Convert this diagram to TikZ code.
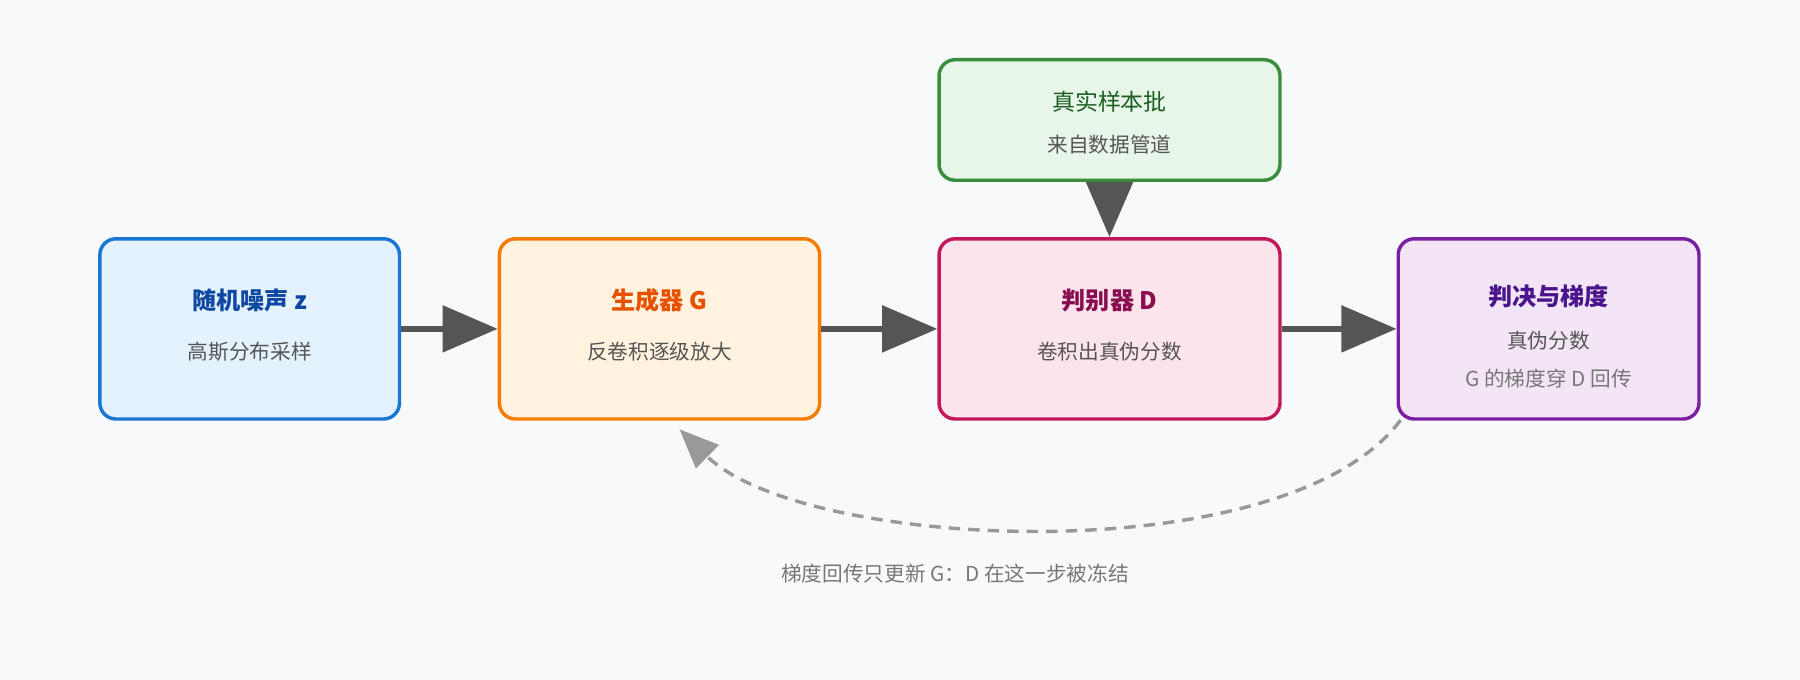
\documentclass[tikz,border=0pt]{standalone}
\usepackage{fontspec}
\setmainfont{Noto Sans CJK SC}
\usetikzlibrary{arrows.meta}
\definecolor{bg}{HTML}{F8F9FB}
\definecolor{sub}{HTML}{555555}
\definecolor{sub2}{HTML}{777777}
\definecolor{arr}{HTML}{555555}
\definecolor{dsh}{HTML}{999999}
\definecolor{bB}{HTML}{1976D2}\definecolor{fB}{HTML}{E3F2FD}\definecolor{tB}{HTML}{0D47A1}
\definecolor{bO}{HTML}{F57C00}\definecolor{fO}{HTML}{FFF3E0}\definecolor{tO}{HTML}{E65100}
\definecolor{bR}{HTML}{C2185B}\definecolor{fR}{HTML}{FCE4EC}\definecolor{tR}{HTML}{880E4F}
\definecolor{bP}{HTML}{7B1FA2}\definecolor{fP}{HTML}{F3E5F5}\definecolor{tP}{HTML}{4A148C}
\definecolor{bG}{HTML}{388E3C}\definecolor{fG}{HTML}{E8F5E9}\definecolor{tG}{HTML}{1B5E20}
\tikzset{
 box/.style={draw, line width=3pt, rounded corners=14pt, inner sep=0pt, minimum height=157pt},
 ttl/.style={font=\fontsize{21}{24}\selectfont\bfseries},
 st/.style={font=\fontsize{18}{22}\selectfont, text=sub},
 flow/.style={draw=arr, line width=5pt, -{Triangle[length=48pt,width=40pt]}},
}
\begin{document}
\begin{tikzpicture}[x=1pt,y=-1pt]
\fill[bg] (0,0) rectangle (1568,592);
\useasboundingbox (0,0) rectangle (1568,592);
% boxes
\node[box, draw=bB, fill=fB, minimum width=261pt] (n) at (217.5,286.5) {};
\node[box, draw=bO, fill=fO, minimum width=279pt] (g) at (574.5,286.5) {};
\node[box, draw=bR, fill=fR, minimum width=297pt] (d) at (966.5,286.5) {};
\node[box, draw=bP, fill=fP, minimum width=262pt] (j) at (1349,286.5) {};
\node[box, draw=bG, fill=fG, minimum width=297pt, minimum height=105pt] (r) at (966.5,104.5) {};
% texts
\node[ttl, text=tB] (nt) at (217.5,262) {随机噪声 z};
\node[st] (ns) at (217.5,306) {高斯分布采样};
\node[ttl, text=tO] (gt) at (574.5,262) {生成器 G};
\node[st] (gs) at (574.5,306) {反卷积逐级放大};
\node[ttl, text=tR] (dt) at (966.5,262) {判别器 D};
\node[st] (ds) at (966.5,306) {卷积出真伪分数};
\node[ttl, text=tP] (jt) at (1349,258) {判决与梯度};
\node[st] (js1) at (1349,297) {真伪分数};
\node[st, text=sub2] (js2) at (1349,330) {G 的梯度穿 D 回传};
\node[font=\fontsize{20}{24}\selectfont, text=tG] (rt) at (966.5,89) {真实样本批};
\node[st] (rs) at (966.5,126) {来自数据管道};
\node[st, text=sub2] (lab) at (832,500) {梯度回传只更新 G：D 在这一步被冻结};
% arrows
\draw[flow] (n.east) -- (g.west);
\draw[flow] (g.east) -- (d.west);
\draw[flow] (d.east) -- (j.west);
\draw[flow] (r.south) -- (d.north);
\coordinate (c1) at (1220,366);
\coordinate (c2) at (592,374);
\draw[draw=dsh, line width=3pt, dash pattern=on 10pt off 7pt, -{Triangle[length=34pt,width=28pt]}]
  (c1) .. controls (1120,500) and (700,480) .. (c2);
\end{tikzpicture}
\end{document}
